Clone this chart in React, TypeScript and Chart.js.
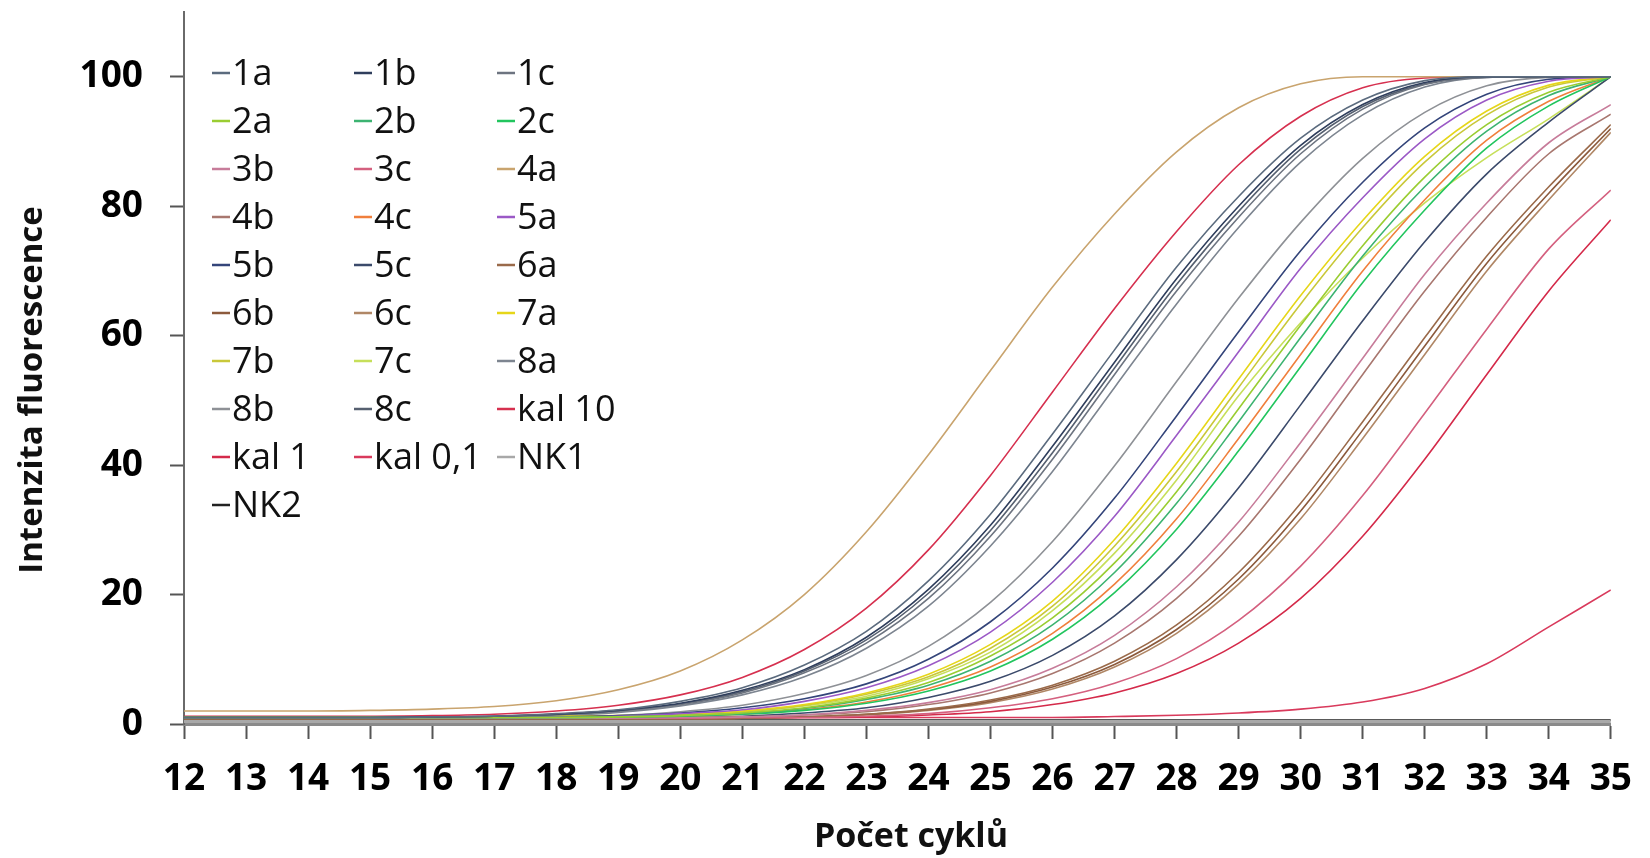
import React, { useEffect, useRef } from "react";
import { Chart, registerables } from "chart.js";

Chart.register(...registerables);

// ---- data -------------------------------------------------------------
const cycles = [12, 13, 14, 15, 16, 17, 18, 19, 20, 21, 22, 23, 24, 25, 26, 27, 28, 29, 30, 31, 32, 33, 34, 35];
const yTickValues = [0, 20, 40, 60, 80, 100];

const seriesNames = [
  "1a", "1b", "1c",
  "2a", "2b", "2c",
  "3b", "3c", "4a",
  "4b", "4c", "5a",
  "5b", "5c", "6a",
  "6b", "6c", "7a",
  "7b", "7c", "8a",
  "8b", "8c", "kal 10",
  "kal 1", "kal 0,1", "NK1",
  "NK2",
];

const seriesColors = [
  "#5b6b7e", "#2f3e5c", "#6d7480",
  "#9acd32", "#3cb371", "#22c55e",
  "#c77c9a", "#d4607f", "#c9a46e",
  "#a8776f", "#f07f3c", "#9b59c6",
  "#34457a", "#3b4a6b", "#9a6a4a",
  "#8c5a3c", "#b08766", "#e6d619",
  "#c9c83a", "#c6df5a", "#7d8590",
  "#8e9196", "#566070", "#d6304f",
  "#d42a4a", "#d93a5c", "#a8a8a8",
  "#222222",
];

const v1a = [1.0, 1.0, 1.0, 1.0, 1.1, 1.2, 1.6, 2.2, 3.5, 5.6, 9.1, 14.3, 22.1, 32.4, 44.8, 57.8, 70.6, 81.5, 90.5, 96.4, 99.4, 100, 100, 100];
const v1b = [1.0, 1.0, 1.0, 1.0, 1.1, 1.2, 1.5, 2.1, 3.2, 5.2, 8.4, 13.4, 20.8, 30.7, 42.9, 55.9, 68.8, 80.0, 89.4, 95.7, 99.1, 100, 100, 100];
const v1c = [1.0, 1.0, 1.0, 1.0, 1.1, 1.2, 1.4, 2.0, 3.0, 4.8, 7.9, 12.5, 19.4, 29.0, 40.9, 54.0, 66.9, 78.3, 88.1, 95.0, 98.8, 99.9, 100, 100];
const v2a = [1.0, 1.0, 1.0, 1.0, 1.0, 1.0, 1.0, 1.1, 1.3, 1.7, 2.5, 4.0, 6.4, 10.5, 16.4, 24.9, 35.9, 48.7, 61.6, 73.9, 84.5, 92.6, 97.6, 100];
const v2b = [1.0, 1.0, 1.0, 1.0, 1.0, 1.0, 1.0, 1.1, 1.3, 1.6, 2.4, 3.8, 6.0, 9.7, 15.3, 23.4, 34.1, 46.7, 59.7, 72.3, 83.0, 91.6, 97.1, 100];
const v2c = [1.0, 1.0, 1.0, 1.0, 1.0, 1.0, 1.0, 1.1, 1.2, 1.5, 2.1, 3.2, 5.1, 8.2, 13.1, 20.3, 30.1, 42.2, 55.2, 68.2, 79.4, 89.0, 95.5, 100];
const v3b = [0.9, 0.9, 0.9, 0.9, 0.9, 0.9, 0.9, 0.9, 1.0, 1.1, 1.4, 2.1, 3.3, 5.3, 8.6, 13.7, 21.2, 31.2, 43.5, 56.5, 69.5, 80.5, 89.8, 95.7];
const v3c = [0.9, 0.9, 0.9, 0.9, 0.9, 0.9, 0.9, 0.9, 0.9, 1.0, 1.0, 1.2, 1.6, 2.5, 3.9, 6.3, 10.1, 16.0, 24.4, 35.3, 48.0, 61.0, 73.4, 82.5];
const v4a = [2.0, 2.0, 2.0, 2.1, 2.3, 2.7, 3.6, 5.3, 8.2, 13.0, 20.0, 29.7, 41.6, 54.6, 67.5, 78.8, 88.4, 95.2, 98.9, 100, 100, 100, 100, 100];
const v4b = [0.9, 0.9, 0.9, 0.9, 0.9, 0.9, 0.9, 0.9, 1.0, 1.1, 1.4, 1.9, 3.0, 4.8, 7.8, 12.5, 19.4, 29.0, 40.9, 54.0, 66.9, 78.3, 88.1, 94.2];
const v4c = [1.0, 1.0, 1.0, 1.0, 1.0, 1.0, 1.0, 1.1, 1.2, 1.5, 2.2, 3.4, 5.5, 8.8, 14.0, 21.6, 31.7, 44.1, 57.1, 70.0, 81.0, 90.2, 96.2, 100];
const v5a = [1.0, 1.0, 1.0, 1.0, 1.0, 1.0, 1.1, 1.2, 1.6, 2.2, 3.5, 5.6, 9.0, 14.2, 21.9, 32.1, 44.6, 57.5, 70.4, 81.3, 90.4, 96.4, 99.3, 100];
const v5b = [1.0, 1.0, 1.0, 1.0, 1.0, 1.0, 1.1, 1.3, 1.7, 2.5, 3.9, 6.2, 10.0, 15.8, 24.1, 34.9, 47.6, 60.6, 73.1, 83.7, 92.1, 97.3, 99.6, 100];
const v5c = [0.9, 0.9, 0.9, 0.9, 0.9, 0.9, 0.9, 1.0, 1.0, 1.2, 1.7, 2.5, 4.1, 6.6, 10.6, 16.7, 25.4, 36.5, 49.3, 62.3, 74.5, 85.0, 93.0, 100];
const v6a = [0.8, 0.8, 0.8, 0.8, 0.8, 0.8, 0.8, 0.8, 0.8, 0.9, 1.1, 1.5, 2.3, 3.7, 6.0, 9.7, 15.3, 23.4, 34.1, 46.7, 59.7, 72.3, 83.0, 92.6];
const v6b = [0.8, 0.8, 0.8, 0.8, 0.8, 0.8, 0.8, 0.8, 0.8, 0.9, 1.1, 1.5, 2.2, 3.5, 5.7, 9.2, 14.6, 22.4, 32.9, 45.4, 58.4, 71.2, 82.0, 92.0];
const v6c = [0.8, 0.8, 0.8, 0.8, 0.8, 0.8, 0.8, 0.8, 0.8, 0.9, 1.1, 1.4, 2.1, 3.3, 5.4, 8.8, 14.0, 21.6, 31.7, 44.1, 57.1, 70.0, 81.0, 91.4];
const v7a = [1.1, 1.1, 1.1, 1.1, 1.1, 1.1, 1.2, 1.3, 1.5, 2.0, 3.0, 4.8, 7.7, 12.3, 19.0, 28.5, 40.3, 53.3, 66.2, 77.8, 87.7, 94.7, 98.7, 100];
const v7b = [1.1, 1.1, 1.1, 1.1, 1.1, 1.1, 1.2, 1.2, 1.5, 1.9, 2.9, 4.6, 7.3, 11.7, 18.2, 27.5, 39.0, 52.0, 64.9, 76.7, 86.8, 94.1, 98.4, 100];
const v7c = [1.1, 1.1, 1.1, 1.1, 1.1, 1.1, 1.1, 1.2, 1.4, 1.9, 2.8, 4.3, 7.0, 11.1, 17.5, 26.4, 37.7, 50.7, 62.0, 72.0, 80.5, 87.5, 93.5, 100];
const v8a = [0.9, 0.9, 0.9, 0.9, 1.0, 1.1, 1.3, 1.8, 2.8, 4.5, 7.3, 11.7, 18.2, 27.5, 39.0, 52.0, 64.9, 76.7, 86.8, 94.1, 98.4, 99.9, 100, 100];
const v8b = [0.9, 0.9, 0.9, 0.9, 0.9, 1.0, 1.1, 1.3, 1.9, 2.9, 4.7, 7.5, 12.0, 18.8, 28.2, 39.9, 52.9, 65.8, 77.5, 87.4, 94.5, 98.6, 99.9, 100];
const v8c = [0.9, 0.9, 0.9, 0.9, 1.0, 1.1, 1.4, 2.0, 3.1, 5.0, 8.2, 13.0, 20.2, 29.9, 41.9, 55.0, 67.9, 79.2, 88.8, 95.4, 98.9, 100, 100, 100];
const vKal10 = [1.2, 1.2, 1.2, 1.2, 1.3, 1.5, 2.0, 2.9, 4.5, 7.2, 11.5, 17.9, 26.9, 38.4, 51.3, 64.2, 76.1, 86.4, 93.9, 98.3, 99.8, 100, 100, 100];
const vKal1 = [0.9, 0.9, 0.9, 0.9, 0.9, 0.9, 0.9, 0.9, 0.9, 0.9, 1.0, 1.1, 1.4, 1.9, 3.0, 4.8, 7.8, 12.5, 19.4, 29.0, 40.9, 54.0, 66.9, 77.9];
const vKal01 = [1.0, 1.0, 1.0, 1.0, 1.0, 1.0, 1.0, 1.0, 1.0, 1.0, 1.0, 1.0, 1.0, 1.0, 1.0, 1.15, 1.35, 1.7, 2.3, 3.4, 5.5, 9.3, 15.0, 20.7];
const vNK1 = [0.4, 0.4, 0.4, 0.4, 0.4, 0.4, 0.4, 0.4, 0.4, 0.4, 0.4, 0.4, 0.4, 0.4, 0.4, 0.4, 0.4, 0.4, 0.4, 0.4, 0.4, 0.4, 0.4, 0.4];
const vNK2 = [0.6, 0.6, 0.6, 0.6, 0.6, 0.6, 0.6, 0.6, 0.6, 0.6, 0.6, 0.6, 0.6, 0.6, 0.6, 0.6, 0.6, 0.6, 0.6, 0.6, 0.6, 0.6, 0.6, 0.6];

const seriesValues = [
  v1a, v1b, v1c,
  v2a, v2b, v2c,
  v3b, v3c, v4a,
  v4b, v4c, v5a,
  v5b, v5c, v6a,
  v6b, v6c, v7a,
  v7b, v7c, v8a,
  v8b, v8c, vKal10,
  vKal1, vKal01, vNK1,
  vNK2,
];

const yTitle = "Intenzita fluorescence";
const xTitle = "Počet cyklů";

// ---- plugin: legend inside plot + axis titles --------------------------
const overlayPlugin = {
  id: "overlay",
  afterDraw(chart: any) {
    const ctx = chart.ctx;
    ctx.save();
    const colX = [212, 354, 497];
    const y0 = 75;
    const dy = 48;
    ctx.font = "36px 'Open Sans'";
    ctx.textBaseline = "middle";
    ctx.textAlign = "left";
    chart.data.datasets.forEach((ds: any, i: number) => {
      const col = i % 3;
      const row = Math.floor(i / 3);
      const x = colX[col];
      const y = y0 + row * dy;
      ctx.strokeStyle = ds.borderColor;
      ctx.lineWidth = 2.5;
      ctx.beginPath();
      ctx.moveTo(x, y - 2);
      ctx.lineTo(x + 18, y - 2);
      ctx.stroke();
      ctx.fillStyle = "#111111";
      ctx.fillText(ds.label, x + 20, y);
    });
    ctx.fillStyle = "#111111";
    ctx.font = "bold 33px 'Open Sans'";
    ctx.textAlign = "center";
    ctx.textBaseline = "middle";
    ctx.save();
    ctx.translate(33, 390);
    ctx.rotate(-Math.PI / 2);
    ctx.fillText(yTitle, 0, 0);
    ctx.restore();
    ctx.font = "bold 34px 'Open Sans'";
    ctx.fillText(xTitle, 911, 837);
    ctx.restore();
  },
};

export default function App() {
  const canvasRef = useRef<HTMLCanvasElement | null>(null);

  useEffect(() => {
    document.body.style.margin = "0";
    document.body.style.background = "#ffffff";
    const canvas = canvasRef.current;
    if (!canvas) return;

    const datasets = seriesNames.map((name, i) => ({
      label: name,
      data: cycles.map((c, j) => ({ x: c, y: seriesValues[i][j] })),
      borderColor: seriesColors[i],
      backgroundColor: seriesColors[i],
      borderWidth: name === "NK1" ? 3 : 1.6,
      pointRadius: 0,
      fill: false,
      cubicInterpolationMode: "monotone" as const,
    }));

    const tickFont = { family: "'Open Sans'", size: 37, weight: "bold" as const };

    const chart = new Chart(canvas, {
      type: "line",
      data: { datasets },
      options: {
        animation: false,
        responsive: false,
        maintainAspectRatio: false,
        layout: { padding: { top: 12, right: 26, left: 0, bottom: 0 } },
        plugins: {
          legend: { display: false },
          tooltip: { enabled: false },
        },
        scales: {
          x: {
            type: "linear",
            min: cycles[0],
            max: cycles[cycles.length - 1],
            afterFit: (scale: any) => {
              scale.height = 134;
            },
            ticks: {
              stepSize: 1,
              autoSkip: false,
              maxRotation: 0,
              padding: 18,
              color: "#000000",
              font: tickFont,
            },
            grid: {
              drawOnChartArea: false,
              drawTicks: true,
              tickLength: 15,
              tickColor: "#555555",
              tickWidth: 2,
            },
            border: { display: true, color: "#8a8a8a", width: 3 },
          },
          y: {
            type: "linear",
            min: 0,
            max: 110,
            afterFit: (scale: any) => {
              scale.width = 184;
              scale.paddingTop = 0;
              scale.paddingBottom = 0;
            },
            afterBuildTicks: (scale: any) => {
              scale.ticks = yTickValues.map((v) => ({ value: v }));
            },
            ticks: {
              padding: 27,
              color: "#000000",
              font: tickFont,
            },
            grid: {
              drawOnChartArea: false,
              drawTicks: true,
              tickLength: 14,
              tickColor: "#555555",
              tickWidth: 2,
            },
            border: { display: true, color: "#6a6a6a", width: 2 },
          },
        },
      },
      plugins: [overlayPlugin],
    });

    return () => {
      chart.destroy();
    };
  }, []);

  return (
    <div style={{ width: 1650, height: 858, position: "relative", overflow: "hidden", background: "#fff" }}>
      <canvas ref={canvasRef} width={1650} height={858} style={{ display: "block" }} />
    </div>
  );
}
